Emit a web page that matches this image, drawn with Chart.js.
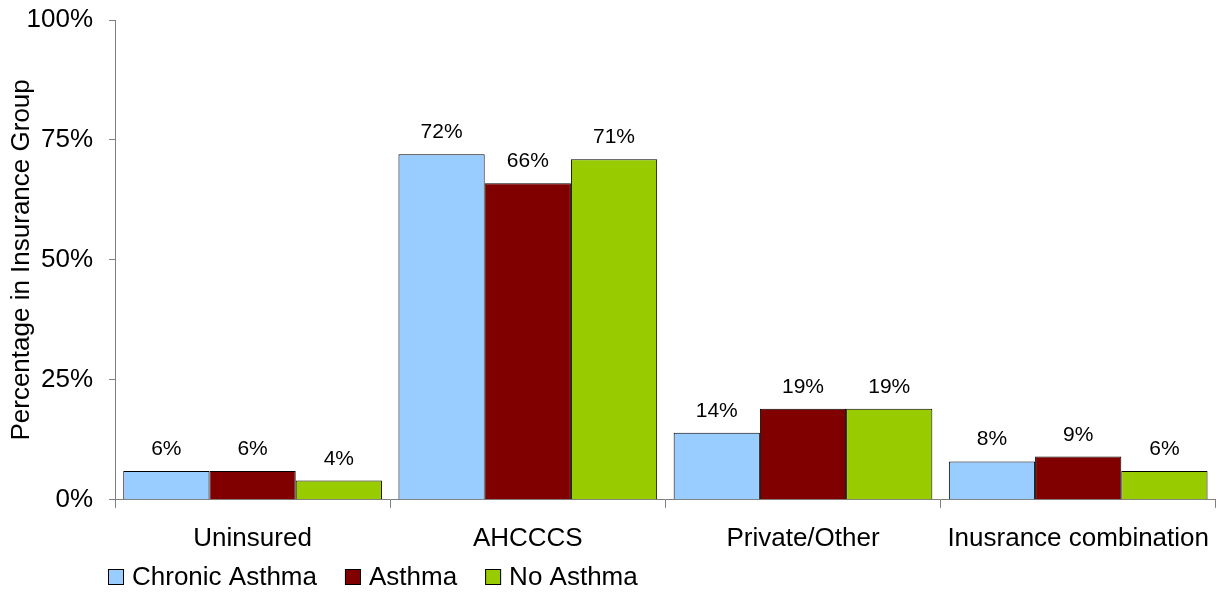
<!DOCTYPE html>
<html>
<head>
<meta charset="utf-8">
<title>Insurance Group by Asthma Status</title>
<script src="https://cdn.jsdelivr.net/npm/chart.js@4/dist/chart.umd.min.js"></script>
<style>
    html, body { margin: 0; padding: 0; background: #fff; }
    #chart { display: block; }
</style>
</head>
<body>
<canvas id="chart" width="1225" height="593"></canvas>
<script>
// Insurance groups along the x axis
const categories = ['Uninsured', 'AHCCCS', 'Private/Other', 'Inusrance combination'];

// Percent of each group in every insurance category
const chronicAsthma = [6, 72, 14, 8];
const asthma = [6, 66, 19, 9];
const noAsthma = [4, 71, 19, 6];

// Y axis ticks
const yTicks = [0, 25, 50, 75, 100];

const FONT = 'Arial, "Liberation Sans", sans-serif';

// Draws the percentage above each bar
const barLabels = {
    id: 'barLabels',
    afterDatasetsDraw(chart) {
        const ctx = chart.ctx;
        ctx.save();
        ctx.font = '21px ' + FONT;
        ctx.fillStyle = '#000';
        ctx.textAlign = 'center';
        ctx.textBaseline = 'alphabetic';
        chart.data.datasets.forEach(function(ds, i) {
            chart.getDatasetMeta(i).data.forEach(function(bar, j) {
                ctx.fillText(ds.data[j] + '%', bar.x, bar.y - 16);
            });
        });
        ctx.restore();
    }
};

// Legend row under the x axis labels, boxes with black outline
const bottomLegend = {
    id: 'bottomLegend',
    afterDraw(chart) {
        const ctx = chart.ctx;
        ctx.save();
        ctx.font = '26px ' + FONT;
        ctx.textBaseline = 'middle';
        ctx.textAlign = 'left';
        let x = 108;
        const y = 577;
        chart.data.datasets.forEach(function(ds) {
            ctx.fillStyle = ds.backgroundColor;
            ctx.fillRect(x, y - 8, 16, 16);
            ctx.strokeStyle = '#000';
            ctx.lineWidth = 1;
            ctx.strokeRect(x + 0.5, y - 7.5, 15, 15);
            ctx.fillStyle = '#000';
            ctx.fillText(ds.label, x + 24, y + 1);
            x += 24 + ctx.measureText(ds.label).width + 28;
        });
        ctx.restore();
    }
};

new Chart(document.getElementById('chart'), {
    type: 'bar',
    data: {
        labels: categories,
        datasets: [
            { label: 'Chronic Asthma', data: chronicAsthma, backgroundColor: '#99CCFF' },
            { label: 'Asthma', data: asthma, backgroundColor: '#800000' },
            { label: 'No Asthma', data: noAsthma, backgroundColor: '#99CC00' }
        ]
    },
    options: {
        responsive: false,
        animation: false,
        layout: { padding: { left: 0, right: 8, top: 0, bottom: 24 } },
        datasets: {
            bar: {
                borderColor: '#000',
                borderWidth: 1,
                categoryPercentage: 0.94,
                barPercentage: 1
            }
        },
        plugins: {
            legend: { display: false },
            tooltip: { enabled: false }
        },
        scales: {
            x: {
                grid: {
                    drawOnChartArea: false,
                    tickLength: 8,
                    color: '#808080'
                },
                border: { color: '#808080' },
                ticks: {
                    color: '#000',
                    padding: 15,
                    font: { size: 26, family: FONT }
                }
            },
            y: {
                min: 0,
                max: 100,
                afterBuildTicks(scale) {
                    scale.ticks = yTicks.map(function(v) { return { value: v }; });
                },
                afterFit(scale) {
                    scale.width = 115;
                    // only half the top label sticks out above the axis
                    scale.paddingTop = 20;
                },
                grid: {
                    drawOnChartArea: false,
                    tickLength: 6,
                    color: '#808080'
                },
                border: { color: '#808080' },
                ticks: {
                    color: '#000',
                    padding: 16,
                    font: { size: 26, family: FONT },
                    callback: function(v) { return v + '%'; }
                },
                title: {
                    display: true,
                    text: 'Percentage in Insurance Group',
                    color: '#000',
                    padding: { top: 6, bottom: 0 },
                    font: { size: 26, family: FONT }
                }
            }
        }
    },
    plugins: [barLabels, bottomLegend]
});
</script>
</body>
</html>
